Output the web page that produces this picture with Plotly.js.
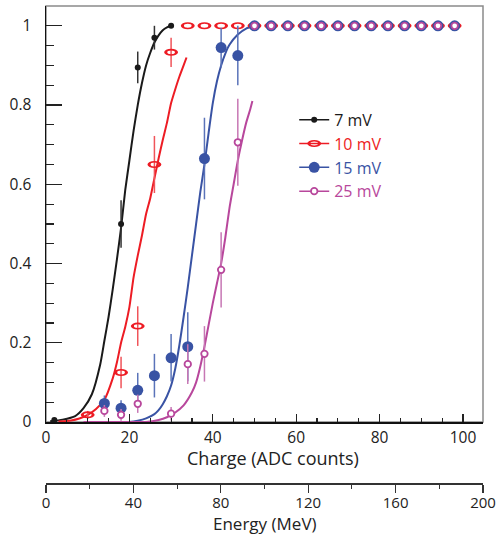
<!DOCTYPE html>
<html>
<head>
<meta charset="utf-8">
<script src="https://cdn.plot.ly/plotly-3.0.1.min.js"></script>
<style>html,body{margin:0;padding:0;background:#fff}</style>
</head>
<body>
<div id="chart" style="width:497px;height:535px"></div>
<script>
// ---- series names ----
const names = ["7 mV", "10 mV", "15 mV", "25 mV"];
const colors = ["#1a1a1a", "#ed1c24", "#3953a4", "#b8479c"];
const errColors = ["#333333", "#f0545a", "#5a73b9", "#c777b4"];

// ---- measured points ----
const plateauX = [50, 54, 58, 62, 66, 70, 74, 78, 82, 86, 90, 94, 98];
const plateauY = [1, 1, 1, 1, 1, 1, 1, 1, 1, 1, 1, 1, 1];
const plateauE = [0, 0, 0, 0, 0, 0, 0, 0, 0, 0, 0, 0, 0];

const x7 = [2, 18, 22, 26, 30];
const y7 = [0.005, 0.5, 0.895, 0.97, 1.0];
const e7 = [0.004, 0.06, 0.04, 0.03, 0];

const x10 = [10, 18, 22, 26, 30, 34, 38, 42, 46].concat(plateauX);
const y10 = [0.018, 0.125, 0.242, 0.65, 0.933, 1, 1, 1, 1].concat(plateauY);
const e10 = [0.01, 0.04, 0.05, 0.072, 0.037, 0, 0, 0, 0].concat(plateauE);

const x15 = [14, 18, 22, 26, 30, 34, 38, 42, 46].concat(plateauX);
const y15 = [0.047, 0.035, 0.08, 0.117, 0.162, 0.19, 0.665, 0.945, 0.925].concat(plateauY);
const e15 = [0.02, 0.02, 0.044, 0.055, 0.06, 0.087, 0.103, 0.05, 0.075].concat(plateauE);

const x25 = [14, 18, 22, 30, 34, 38, 42, 46].concat(plateauX);
const y25 = [0.028, 0.018, 0.046, 0.021, 0.146, 0.172, 0.384, 0.706].concat(plateauY);
const e25 = [0.015, 0.015, 0.023, 0.017, 0.05, 0.07, 0.095, 0.11].concat(plateauE);

// ---- fitted curves ----
const fx7 = [1, 4, 7, 9, 11, 13, 14, 15, 16, 17, 18, 19, 20, 21, 22, 23, 24, 25, 26, 27, 28, 29, 30];
const fy7 = [0.002, 0.006, 0.015, 0.035, 0.07, 0.145, 0.205, 0.265, 0.335, 0.41, 0.49, 0.585, 0.66, 0.735, 0.80, 0.855, 0.90, 0.932, 0.958, 0.976, 0.989, 0.996, 1.0];

const fx10 = [3, 6, 8, 10, 12, 14, 16, 17, 18, 19, 20, 21, 22, 23, 24, 25, 26, 27, 28, 29, 30, 31, 32, 33, 33.7];
const fy10 = [0.001, 0.004, 0.009, 0.018, 0.033, 0.056, 0.11, 0.15, 0.20, 0.24, 0.29, 0.365, 0.42, 0.47, 0.525, 0.565, 0.615, 0.665, 0.712, 0.755, 0.805, 0.84, 0.872, 0.90, 0.92];

const fx15 = [12, 16, 20, 22, 24, 26, 27, 28, 29, 30, 31, 32, 33, 34, 35, 36, 37, 38, 39, 40, 41, 42, 43, 44, 46, 48, 50];
const fy15 = [0, 0, 0, 0.003, 0.009, 0.02, 0.03, 0.045, 0.065, 0.092, 0.135, 0.195, 0.265, 0.34, 0.42, 0.50, 0.58, 0.65, 0.73, 0.805, 0.86, 0.90, 0.93, 0.952, 0.978, 0.993, 1.0];

const fx25 = [9, 15, 20, 24, 27, 29, 31, 33, 35, 36, 37, 38, 39, 40, 41, 42, 43, 44, 45, 46, 47, 48, 49, 49.5];
const fy25 = [0, 0, 0, 0, 0.005, 0.012, 0.024, 0.042, 0.075, 0.10, 0.14, 0.19, 0.245, 0.30, 0.35, 0.40, 0.465, 0.54, 0.60, 0.66, 0.71, 0.755, 0.79, 0.81];

// ---- axis ticks ----
const chargeTicks = [0, 20, 40, 60, 80, 100];
const energyTicks = [0, 40, 80, 120, 160, 200];
const effTicks = [0, 0.2, 0.4, 0.6, 0.8, 1];

const FONT = "Open Sans, Noto Sans, DejaVu Sans, sans-serif";
const TICKSIZE = 15.5;

const curves = [[fx7, fy7], [fx10, fy10], [fx15, fy15], [fx25, fy25]].map((c, i) => ({
  type: "scatter", mode: "lines", x: c[0], y: c[1], showlegend: false, hoverinfo: "skip",
  line: {color: colors[i], width: 2, shape: "spline", smoothing: 0.6}
}));

const markerDefs = [
  {symbol: "circle", size: 6, color: colors[0]},
  {symbol: "circle-open", size: 8, color: colors[1], line: {color: colors[1], width: 2.3}},
  {symbol: "circle", size: 11, color: colors[2], line: {width: 0}},
  {symbol: "circle", size: 6.5, color: "#ffffff", line: {color: colors[3], width: 1.8}}
];

const pts = [[x7, y7, e7], [x10, y10, e10], [x15, y15, e15], [x25, y25, e25]].map((p, i) => ({
  type: "scatter", mode: "markers", x: p[0], y: p[1], name: names[i], showlegend: false,
  marker: markerDefs[i],
  error_y: {type: "data", array: p[2], visible: true, color: errColors[i], thickness: 1.5, width: 0}
}));

const legendTraces = names.map((n, i) => ({
  type: "scatter", mode: "lines+markers", x: [null], y: [null],
  name: '<span style="color:' + colors[i] + '">' + n + '</span>',
  meta: n,
  line: {color: colors[i], width: 1.5},
  marker: markerDefs[i]
}));

// empty trace that attaches the energy scale (xaxis2) so the axis is drawn
const energyAxisTrace = {
  type: "scatter", mode: "markers", x: [null], y: [null], xaxis: "x2", yaxis: "y",
  showlegend: false, hoverinfo: "skip"
};

const yDomLow = 61 / 477;

const layout = {
  width: 497, height: 535,
  margin: {l: 46, r: 14, t: 6, b: 52},
  paper_bgcolor: "#ffffff", plot_bgcolor: "#ffffff",
  font: {family: FONT, size: 16, color: "#222222"},
  showlegend: true,
  legend: {x: 0.568, y: 0.797, xanchor: "left", yanchor: "top", bgcolor: "rgba(0,0,0,0)",
           font: {family: FONT, size: 16}, itemwidth: 30},
  xaxis: {
    range: [0, 104.8], domain: [0, 1], anchor: "y",
    tickvals: chargeTicks, ticktext: chargeTicks.map(String),
    ticks: "inside", ticklen: 8, tickwidth: 1.3, tickcolor: "#222",
    minor: {dtick: 5, ticks: "inside", ticklen: 4, tickwidth: 1.2, tickcolor: "#222"},
    showline: true, linecolor: "#111", linewidth: 1.5,
    showgrid: false, zeroline: false, ticklabelstandoff: 1,
    tickfont: {family: FONT, size: TICKSIZE}
  },
  xaxis2: {
    range: [0, 200], overlaying: "x", anchor: "free", position: 0, side: "bottom",
    tickvals: energyTicks, ticktext: energyTicks.map(String),
    ticks: "outside", ticklen: 8, tickwidth: 1.3, tickcolor: "#333",
    minor: {dtick: 20, ticks: "outside", ticklen: 4, tickwidth: 1.2, tickcolor: "#333"},
    showline: true, linecolor: "#333", linewidth: 1.5,
    showgrid: false, zeroline: false, ticklabelstandoff: -3,
    tickfont: {family: FONT, size: 15}
  },
  yaxis: {
    range: [0, 1.05], domain: [yDomLow, 1],
    tickvals: effTicks, ticktext: ["0", "0.2", "0.4", "0.6", "0.8", "1"],
    ticks: "inside", ticklen: 16, tickwidth: 1.3, tickcolor: "#222",
    minor: {dtick: 0.05, ticks: "inside", ticklen: 8, tickwidth: 1.2, tickcolor: "#222"},
    showline: true, linecolor: "#111", linewidth: 1.5,
    showgrid: false, zeroline: false, ticklabelstandoff: 10,
    tickfont: {family: FONT, size: TICKSIZE}
  },
  shapes: [{
    type: "rect", xref: "paper", yref: "paper", x0: 0, x1: 1, y0: yDomLow, y1: 1,
    line: {color: "#8a8a8a", width: 1.5}, layer: "below"
  }],
  annotations: [{
    text: "Charge (ADC counts)", xref: "paper", yref: "paper", x: 0.52, y: yDomLow - 35.5 / 477,
    xanchor: "center", yanchor: "middle", showarrow: false,
    font: {family: FONT, size: 18, color: "#222"}
  }, {
    text: "Energy (MeV)", xref: "paper", yref: "paper", x: 0.5, y: -40.5 / 477,
    xanchor: "center", yanchor: "middle", showarrow: false,
    font: {family: FONT, size: 17, color: "#222"}
  }]
};

Plotly.newPlot("chart", curves.concat(pts, legendTraces, [energyAxisTrace]), layout, {displayModeBar: false, staticPlot: true})
.then(function () {
  const sx = 1.35, sy = 0.68;
  document.querySelectorAll(".scatterlayer .trace").forEach(function (g) {
    const d = g.__data__;
    if (!d || !d[0] || !d[0].trace) return;
    const tr = d[0].trace;
    if (tr.name === names[1]) {
      g.querySelectorAll("path.point").forEach(function (p) {
        p.setAttribute("transform", (p.getAttribute("transform") || "") + " scale(" + sx + "," + sy + ")");
      });
    }
  });
  document.querySelectorAll(".legend .traces").forEach(function (g) {
    const d = g.__data__;
    if (!d || !d[0] || !d[0].trace) return;
    const tr = d[0].trace;
    if (tr.meta === names[1]) {
      g.querySelectorAll("path.scatterpts").forEach(function (p) {
        p.setAttribute("transform", (p.getAttribute("transform") || "") + " scale(" + sx + "," + sy + ")");
      });
    }
  });
});
</script>
</body>
</html>
